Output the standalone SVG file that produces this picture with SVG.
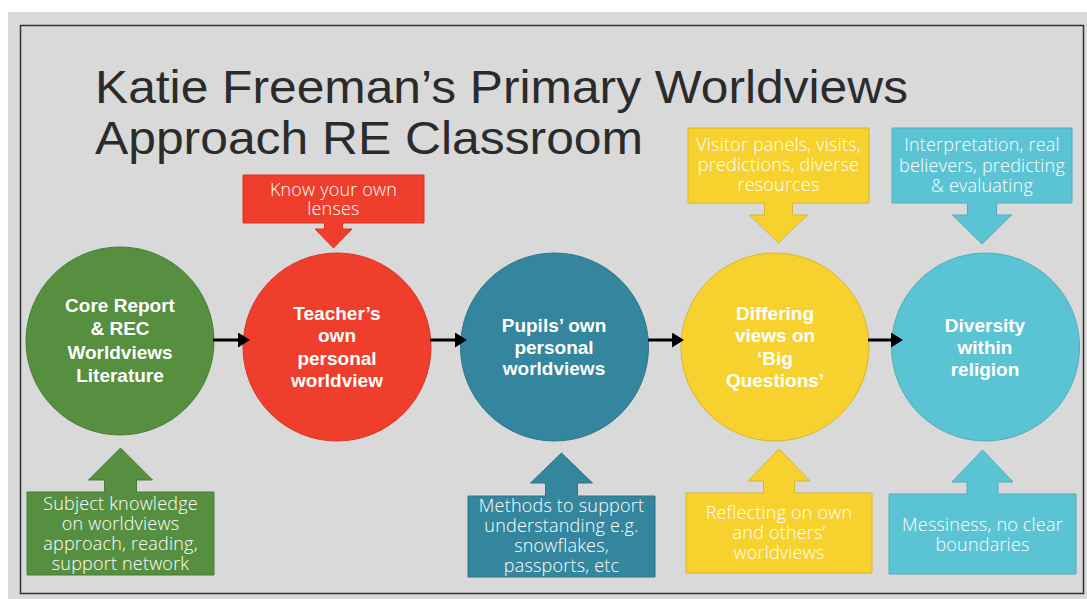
<svg xmlns="http://www.w3.org/2000/svg" width="1087" height="599" viewBox="0 0 1087 599">
  <style>
    .title { font-family: "Liberation Sans", Arial, sans-serif; font-size: 46px; fill: #2b2b2b; }
    .node-label { font-family: "Liberation Sans", Arial, sans-serif; font-size: 19px; font-weight: bold; fill: #ffffff; text-anchor: middle; }
    .note { font-family: "Open Sans", "Liberation Sans", sans-serif; font-size: 18px; font-weight: 300; letter-spacing: 0.2px; fill: #ffffff; text-anchor: middle; }
    .green { fill: #568f3f; stroke: #4a7d36; stroke-width: 1; }
    .red { fill: #ef3e2b; stroke: #d83524; stroke-width: 1; }
    .teal { fill: #33869d; stroke: #2c768a; stroke-width: 1; }
    .yellow { fill: #f7d22f; stroke: #d9b628; stroke-width: 1; }
    .sky { fill: #5bc4d4; stroke: #4fadbb; stroke-width: 1; }
    .link { stroke: #000000; stroke-width: 3; fill: none; marker-end: url(#head); }
  </style>
  <defs>
    <marker id="head" markerUnits="userSpaceOnUse" markerWidth="12" markerHeight="15" refX="2" refY="7.5" orient="auto">
      <path d="M0,0 L12,7.5 L0,15 Z" fill="#000000"/>
    </marker>
  </defs>

  <!-- slide background and frame -->
  <rect x="0" y="0" width="1087" height="599" fill="#ffffff"/>
  <rect x="8" y="12" width="1079" height="587" fill="#d9d9d9"/>
  <rect x="20.5" y="25.5" width="1063" height="568" fill="#d9d9d9" stroke="#303030" stroke-width="1.5"/>

  <!-- title -->
  <g id="title">
    <text class="title" x="95" y="103" textLength="813" lengthAdjust="spacingAndGlyphs">Katie Freeman’s Primary Worldviews</text>
    <text class="title" x="95" y="154" textLength="548" lengthAdjust="spacingAndGlyphs">Approach RE Classroom</text>
  </g>

  <!-- main stages -->
  <g id="core-report">
    <circle class="green" cx="120" cy="341" r="94"/>
    <text class="node-label" x="120" y="311.5">Core Report</text>
    <text class="node-label" x="120" y="334.5">&amp; REC</text>
    <text class="node-label" x="120" y="358.5">Worldviews</text>
    <text class="node-label" x="120" y="381.5">Literature</text>
  </g>

  <g id="teacher-worldview">
    <circle class="red" cx="337" cy="347" r="94"/>
    <text class="node-label" x="337" y="319.5">Teacher’s</text>
    <text class="node-label" x="337" y="342">own</text>
    <text class="node-label" x="337" y="364.5">personal</text>
    <text class="node-label" x="337" y="387">worldview</text>
  </g>

  <g id="pupils-worldviews">
    <circle class="teal" cx="554.5" cy="347" r="94"/>
    <text class="node-label" x="554" y="331.5">Pupils’ own</text>
    <text class="node-label" x="554" y="353.5">personal</text>
    <text class="node-label" x="554" y="375">worldviews</text>
  </g>

  <g id="big-questions">
    <circle class="yellow" cx="775" cy="347" r="94"/>
    <text class="node-label" x="775" y="319.5">Differing</text>
    <text class="node-label" x="775" y="342">views on</text>
    <text class="node-label" x="775" y="364.5">‘Big</text>
    <text class="node-label" x="775" y="387">Questions’</text>
  </g>

  <g id="diversity">
    <circle class="sky" cx="985.5" cy="347" r="94"/>
    <text class="node-label" x="985" y="331.5">Diversity</text>
    <text class="node-label" x="985" y="354">within</text>
    <text class="node-label" x="985" y="376">religion</text>
  </g>

  <!-- callouts pointing down onto a stage -->
  <g id="note-lenses">
    <path class="red" d="M243,175 H424 V223 H342.5 V229 H352 L333.5,248 L315,229 H324.5 V223 H243 Z"/>
    <text class="note" x="333.5" y="196">Know your own</text>
    <text class="note" x="333.5" y="215">lenses</text>
  </g>

  <g id="note-visitors">
    <path class="yellow" d="M688,128 H869 V203 H792.5 V215 H807.5 L778.5,243 L749.5,215 H764.5 V203 H688 Z"/>
    <text class="note" x="778.5" y="151">Visitor panels, visits,</text>
    <text class="note" x="778.5" y="171">predictions, diverse</text>
    <text class="note" x="778.5" y="191">resources</text>
  </g>

  <g id="note-interpretation">
    <path class="sky" d="M892,128 H1072 V203 H996.5 V215 H1011.5 L982,244 L952.5,215 H967.5 V203 H892 Z"/>
    <text class="note" x="982" y="151">Interpretation, real</text>
    <text class="note" x="982" y="172">believers, predicting</text>
    <text class="note" x="982" y="192">&amp; evaluating</text>
  </g>

  <!-- callouts pointing up onto a stage -->
  <g id="note-subject-knowledge">
    <path class="green" d="M27,492 H104.5 V480 H88.5 L120.5,448 L152.5,480 H136.5 V492 H214 V575 H27 Z"/>
    <text class="note" x="120.5" y="510">Subject knowledge</text>
    <text class="note" x="120.5" y="530">on worldviews</text>
    <text class="note" x="120.5" y="550">approach, reading,</text>
    <text class="note" x="120.5" y="570">support network</text>
  </g>

  <g id="note-methods">
    <path class="teal" d="M468,496 H545.5 V483 H530.5 L561.5,453 L592.5,483 H577.5 V496 H655 V577 H468 Z"/>
    <text class="note" x="561.5" y="512">Methods to support</text>
    <text class="note" x="561.5" y="532">understanding e.g.</text>
    <text class="note" x="561.5" y="552">snowflakes,</text>
    <text class="note" x="561.5" y="572">passports, etc</text>
  </g>

  <g id="note-reflecting">
    <path class="yellow" d="M686,493 H763.5 V481 H748 L779,449 L810,481 H794.5 V493 H872 V573 H686 Z"/>
    <text class="note" x="779" y="519">Reflecting on own</text>
    <text class="note" x="779" y="539">and others’</text>
    <text class="note" x="779" y="559">worldviews</text>
  </g>

  <g id="note-messiness">
    <path class="sky" d="M889,494 H967 V482 H952 L982.5,450 L1013,482 H998 V494 H1076 V574 H889 Z"/>
    <text class="note" x="982.5" y="531">Messiness, no clear</text>
    <text class="note" x="982.5" y="551">boundaries</text>
  </g>

  <!-- connectors between stages -->
  <g id="connectors">
    <line class="link" x1="213" y1="340" x2="240" y2="340"/>
    <line class="link" x1="430" y1="340" x2="457" y2="340"/>
    <line class="link" x1="648" y1="340" x2="674" y2="340"/>
    <line class="link" x1="868" y1="340" x2="893" y2="340"/>
  </g>
</svg>
